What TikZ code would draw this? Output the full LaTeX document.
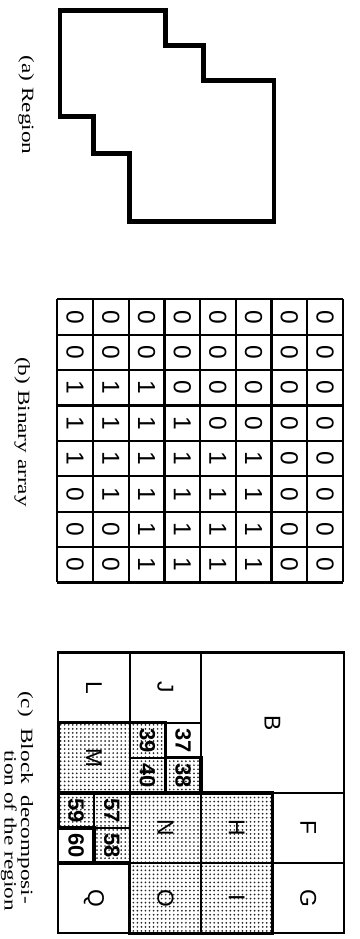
\documentclass[tikz,border=0pt]{standalone}
\usepackage{fontspec}
\setmainfont{Liberation Serif}
\newfontfamily\blockfont{Liberation Sans}
\usetikzlibrary{patterns.meta}

\begin{document}
\begin{tikzpicture}[x=0.02cm, y=-0.02cm,
    % lines of the array and of the blocks
    cellline/.style={line width=1.3pt},
    outline/.style={line width=2.8pt, line join=miter},
    boundline/.style={line width=1.9pt, line join=miter},
    plain/.style={},
    shaded/.style={pattern={Dots[distance=2.3pt, radius=0.55pt]}, pattern color=black!85},
    % texts are all turned a quarter clockwise
    caption/.style={rotate=-90, inner sep=0pt, font=\fontsize{9.8}{11.5}\selectfont},
    bit/.style={rotate=-90, inner sep=0pt, font=\blockfont\fontsize{14}{14}\selectfont},
    letter/.style={rotate=-90, inner sep=0pt, font=\blockfont\fontsize{13}{13}\selectfont},
    number/.style={rotate=-90, inner sep=0pt, font=\blockfont\bfseries\fontsize{12.5}{12.5}\selectfont}
]
\useasboundingbox (0,0) rectangle (359,939);

% 1. The region
\draw[outline] (60,10.7) -| (165.7,45.7) -| (203.3,80.7) -| (274,221.7)
    -| (129.3,153.3) -| (93.3,116.7) -| (60,10.7) -- cycle;
\node[caption, anchor=base] (capA) at (22,105) {\scalebox{1.35}[1]{(a) Region}};

% 2. Binary array (one row of bits per line)
\begin{scope}[shift={(57.3,299.3)}, x=0.714cm, y=-0.708cm]
    \foreach \r/\bits in {0/{0,0,0,0,0,0,0,0}, 1/{0,0,0,0,0,0,0,0},
                          2/{1,1,1,0,0,0,0,0}, 3/{1,1,1,1,0,0,0,0},
                          4/{1,1,1,1,1,1,0,0}, 5/{0,1,1,1,1,1,0,0},
                          6/{0,0,1,1,1,1,0,0}, 7/{0,0,1,1,1,1,0,0}} {
        \foreach \b [count=\c from 0] in \bits {
            \node[bit] (bit-\r-\c) at (\c+0.5, \r+0.5) {\b};
        }
    }
    \foreach \k in {0,...,8} {
        \draw[cellline] (\k,0) -- (\k,8);
        \draw[cellline] (0,\k) -- (8,\k);
    }
\end{scope}
\node[caption, anchor=base] (capB) at (18,432) {\scalebox{1.35}[1]{(b) Binary array}};

% 3. Block decomposition: column/row/size/label/fill/label style
\begin{scope}[shift={(58.3,652.5)}, x=0.714cm, y=-0.702cm]
    \foreach \c/\r/\s/\lab/\st/\ls in {4/0/4/B/plain/letter, 6/4/2/F/plain/letter,
            6/6/2/G/plain/letter, 4/4/2/H/shaded/letter, 4/6/2/I/shaded/letter,
            2/0/2/J/plain/letter, 0/0/2/L/plain/letter, 0/2/2/M/shaded/letter,
            3/2/1/37/plain/number, 3/3/1/38/shaded/number, 2/2/1/39/shaded/number,
            2/3/1/40/shaded/number, 2/4/2/N/shaded/letter, 2/6/2/O/shaded/letter,
            1/4/1/57/shaded/number, 1/5/1/58/shaded/number, 0/4/1/59/shaded/number,
            0/5/1/60/plain/number, 0/6/2/Q/plain/letter} {
        \draw[cellline, \st] (\c,\r) rectangle ++(\s,\s);
        \node[\ls] (blk-\lab) at (\c+\s/2, \r+\s/2) {\lab};
    }
    % border of the black region
    \draw[boundline] (0,2) -| (3,3) -| (4,4) -| (6,8) -| (2,6) -| (1,5) -| (0,2) -- cycle;
    \draw[boundline] (0,4) -- (4,4);
    \draw[boundline] (0,6) -- (1,6);
\end{scope}
\node[caption, anchor=base] (capC) at (21,797.5) {\scalebox{1.35}[1]{(c) \ Block \ decomposi-}};
\node[caption, anchor=base west] (capC2) at (4.5,750) {\scalebox{1.35}[1]{tion of the region}};

\end{tikzpicture}
\end{document}
